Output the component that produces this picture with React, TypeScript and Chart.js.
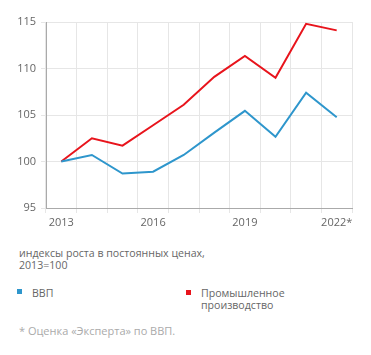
import React, { useEffect, useRef } from "react";
import { Chart, registerables } from "chart.js";

Chart.register(...registerables);

const years = ["2013", "2014", "2015", "2016", "2017", "2018", "2019", "2020", "2021", "2022*"];
const gdp = [100, 100.7, 98.7, 98.9, 100.7, 103.1, 105.45, 102.65, 107.4, 104.75];
const industry = [100, 102.5, 101.7, 103.9, 106.1, 109.1, 111.35, 109.0, 114.8, 114.1];
const yTicks = [95, 100, 105, 110, 115];

const FONT = "'Open Sans', sans-serif";
const BLUE = "#2e96cc";
const RED = "#e8141c";

export default function App() {
  const ref = useRef<HTMLCanvasElement | null>(null);

  useEffect(() => {
    if (!ref.current) return;
    const chart = new Chart(ref.current, {
      type: "line",
      data: {
        labels: years,
        datasets: [
          { label: "ВВП", data: gdp, borderColor: BLUE, borderWidth: 2, pointRadius: 0, tension: 0, fill: false },
          { label: "Промышленное производство", data: industry, borderColor: RED, borderWidth: 2, pointRadius: 0, tension: 0, fill: false },
        ],
      },
      options: {
        animation: false,
        responsive: false,
        layout: { padding: { top: 22, right: 19, left: 0, bottom: 0 } },
        plugins: { legend: { display: false }, tooltip: { enabled: false } },
        scales: {
          x: {
            type: "category",
            offset: true,
            grid: { offset: true, color: "#e6e6e6", tickLength: 5, lineWidth: 1 },
            border: { color: "#aaaaaa", width: 1 },
            ticks: {
              autoSkip: false,
              maxRotation: 0,
              padding: 3,
              color: "#666666",
              font: { family: FONT, size: 11 },
              callback: (_v: any, i: number) => (i % 3 === 0 ? years[i] : ""),
            },
            afterFit: (s: any) => { s.height = 27; },
          },
          y: {
            min: 95,
            max: 115,
            afterBuildTicks: (s: any) => { s.ticks = yTicks.map((v) => ({ value: v })); },
            grid: { color: "#e6e6e6", tickLength: 5, lineWidth: 1 },
            border: { color: "#aaaaaa", width: 1 },
            ticks: { padding: 5, color: "#666666", font: { family: FONT, size: 11 } },
            afterFit: (s: any) => { s.width = 46; },
          },
        },
      },
    });
    return () => chart.destroy();
  }, []);

  const text: React.CSSProperties = { position: "absolute", fontFamily: FONT, fontSize: 10.6, color: "#666666", lineHeight: "12px", whiteSpace: "nowrap" };

  return (
    <div style={{ position: "fixed", left: 0, top: 0, width: 371, height: 355, background: "#fff" }}>
      <canvas ref={ref} width={371} height={235} style={{ position: "absolute", left: 0, top: 0 }} />
      <div style={{ ...text, left: 19, top: 247 }}>
        индексы роста в постоянных ценах,
        <br />
        2013=100
      </div>
      <div style={{ position: "absolute", left: 17, top: 289, width: 5, height: 5, background: BLUE }} />
      <div style={{ ...text, left: 32, top: 287 }}>ВВП</div>
      <div style={{ position: "absolute", left: 186, top: 290, width: 5, height: 5, background: RED }} />
      <div style={{ ...text, left: 201, top: 287 }}>
        Промышленное
        <br />
        производство
      </div>
      <div style={{ ...text, left: 19, top: 325, fontSize: 11, color: "#aaaaaa" }}>* Оценка «Эксперта» по ВВП.</div>
    </div>
  );
}
